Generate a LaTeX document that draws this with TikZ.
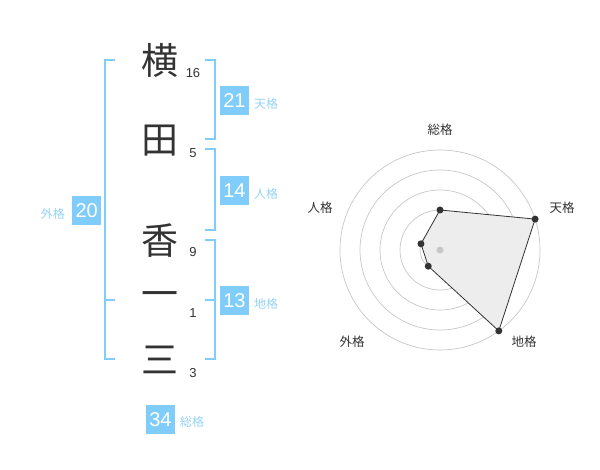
\documentclass[tikz,border=0pt]{standalone}
\usepackage{fontspec}
\usetikzlibrary{calc}
\setmainfont{Liberation Sans}
\newfontfamily\cjk{Noto Sans CJK JP}
\definecolor{boxblue}{HTML}{80CCFA}
\definecolor{lblblue}{HTML}{94D3F7}
\definecolor{ink}{HTML}{333333}
\tikzset{
  bigchar/.style={text=ink, font=\cjk\fontsize{37}{37}\selectfont, inner sep=0pt},
  strokes/.style={text=ink, font=\fontsize{13}{13}\selectfont, inner sep=0pt},
  scorebox/.style={fill=boxblue, text=white, minimum width=29pt, minimum height=29pt, inner sep=0pt, font=\fontsize{20}{20}\selectfont},
  lbl/.style={text=lblblue, font=\cjk\fontsize{12}{12}\selectfont, inner sep=0pt},
  brk/.style={draw=boxblue, line width=2pt},
  ring/.style={draw=black!22, line width=0.7pt},
  radlbl/.style={text=ink, font=\cjk\fontsize{12.5}{12.5}\selectfont, inner sep=0pt},
  dot/.style={circle, fill=ink, inner sep=0pt, minimum size=7pt},
}
\begin{document}
\begin{tikzpicture}[x=1pt, y=-1pt]
\useasboundingbox (0,0) rectangle (600,470);
% characters
\node[bigchar] (c1) at (160,60) {横};
\node[bigchar] (c2) at (160,141) {田};
\node[bigchar] (c3) at (160,241) {香};
\node[bigchar] (c4) at (160,300) {一};
\node[bigchar] (c5) at (160,360) {三};
\node[strokes] (n1) at (193,72.7) {16};
\node[strokes] (n2) at (193,152.7) {5};
\node[strokes] (n3) at (193,252.3) {9};
\node[strokes] (n4) at (193,313.3) {1};
\node[strokes] (n5) at (193,372.7) {3};
% brackets
\draw[brk] (115,60) -- (105.3,60) -- (105.3,359.3) -- (115,359.3);
\draw[brk] (105.3,300) -- (115,300);
\draw[brk] (205,60) -- (215,60) -- (215,139.3) -- (205,139.3);
\draw[brk] (205,149.3) -- (215,149.3) -- (215,230) -- (205,230);
\draw[brk] (205,240) -- (215,240) -- (215,359.3) -- (205,359.3);
\draw[brk] (205,300) -- (215,300);
% score boxes
\node[scorebox] (s1) at (234.5,100.3) {21};
\node[lbl, anchor=west] (l1) at (254,104) {\cjk 天格};
\node[scorebox] (s2) at (234.5,190.3) {14};
\node[lbl, anchor=west] (l2) at (254,194) {\cjk 人格};
\node[scorebox] (s3) at (234.5,300.3) {13};
\node[lbl, anchor=west] (l3) at (254,304) {\cjk 地格};
\node[scorebox] (s4) at (86.7,210.3) {20};
\node[lbl, anchor=east] (l4) at (65,214) {\cjk 外格};
\node[scorebox] (s5) at (160.5,419.3) {34};
\node[lbl, anchor=west] (l5) at (180,422.3) {\cjk 総格};
% radar
\coordinate (ctr) at (440,250);
\foreach \r in {20,40,60,80,100} \draw[ring] (ctr) circle[radius=\r];
\coordinate (pS) at ($(ctr)+(0,-40)$);
\coordinate (pT) at ($(ctr)+({100*cos(18)},{-100*sin(18)})$);
\coordinate (pC) at ($(ctr)+({100*cos(54)},{100*sin(54)})$);
\coordinate (pG) at ($(ctr)+({-20*cos(54)},{20*sin(54)})$);
\coordinate (pJ) at ($(ctr)+({-20*cos(18)},{-20*sin(18)})$);
\fill[black!7] (pS) -- (pT) -- (pC) -- (pG) -- (pJ) -- cycle;
\draw[ink, line width=0.8pt] (pS) -- (pT) -- (pC) -- (pG) -- (pJ) -- cycle;
\node[circle, fill=black!22, inner sep=0pt, minimum size=7pt] (cd) at (ctr) {};
\foreach \p in {pS,pT,pC,pG,pJ} \node[dot] at (\p) {};
\node[radlbl] (r1) at (440,130) {総格};
\node[radlbl] (r2) at (562,208) {天格};
\node[radlbl] (r3) at (320,208) {人格};
\node[radlbl] (r4) at (352,342) {外格};
\node[radlbl] (r5) at (524,342) {地格};
\end{tikzpicture}
\end{document}
